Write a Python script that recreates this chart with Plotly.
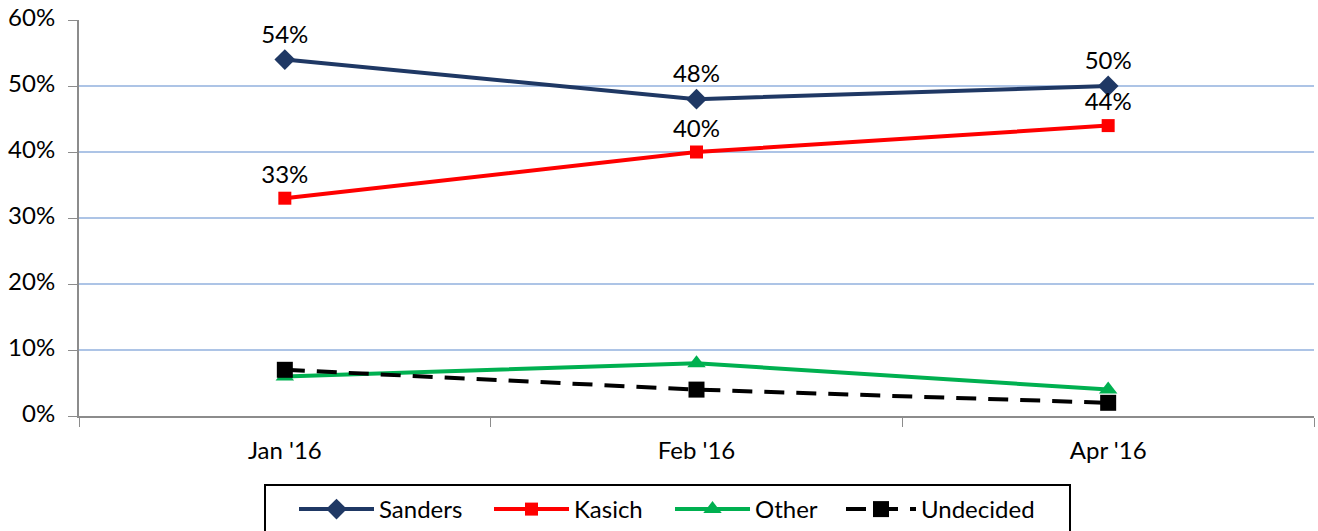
import plotly.graph_objects as go

categories = ["Jan '16", "Feb '16", "Apr '16"]
sanders = [54, 48, 50]
kasich = [33, 40, 44]
other = [6, 8, 4]
undecided = [7, 4, 2]
y_ticks = [0, 10, 20, 30, 40, 50, 60]

FONT = "Lato, Carlito, Calibri, sans-serif"
FS = 24

W, H = 1318, 531
ML, MT, MR, MB = 79, 20, 4, 115
PW = W - ML - MR
PH = H - MT - MB

def px_x(page_x):
    return (page_x - ML) / PW

def px_y(page_y):
    return (MT + PH - page_y) / PH

fig = go.Figure()

def add(name, vals, color, symbol, msize, legend, dash="solid", labels=False):
    fig.add_trace(go.Scatter(
        x=categories, y=vals, name=name, legend=legend,
        mode="lines+markers+text" if labels else "lines+markers",
        line=dict(color=color, width=4, dash=dash),
        marker=dict(symbol=symbol, size=msize, color=color),
        text=[f"{v}%" for v in vals] if labels else None,
        textposition="top center",
        textfont=dict(size=FS, color="black", family=FONT),
        cliponaxis=False,
    ))

add("Sanders", sanders, "#1F3864", "diamond", 16, "legend", labels=True)
add("Kasich", kasich, "#FF0000", "square", 13, "legend2", labels=True)
add("Other", other, "#00B050", "triangle-up", 16, "legend3")
add("Undecided", undecided, "#000000", "square", 16, "legend4", dash="20px,12px")

legend_starts = [299, 494, 675, 846]
legend_itemw = [75, 75, 75, 70]
legend_y = px_y(487)

def leg(i):
    return dict(
        orientation="h", x=px_x(legend_starts[i] - 5), xanchor="left",
        y=legend_y, yanchor="top",
        borderwidth=0, bgcolor="rgba(0,0,0,0)",
        font=dict(size=FS, family=FONT, color="black"),
        itemwidth=legend_itemw[i],
    )

fig.update_layout(
    width=W, height=H,
    margin=dict(l=ML, r=MR, t=MT, b=MB, autoexpand=False),
    plot_bgcolor="white", paper_bgcolor="white",
    font=dict(family=FONT, size=FS, color="black"),
    showlegend=True,
    legend=leg(0), legend2=leg(1), legend3=leg(2), legend4=leg(3),
    shapes=[dict(
        type="rect", xref="paper", yref="paper",
        x0=px_x(265), x1=px_x(1070), y0=px_y(485), y1=px_y(560),
        line=dict(color="black", width=2), fillcolor="rgba(0,0,0,0)",
        layer="above",
    )],
)
fig.update_xaxes(
    type="category", range=[-0.5, 2.5], automargin=False,
    showline=True, linecolor="#8C8C8C", linewidth=2,
    ticks="outside", tickson="boundaries", ticklen=9, tickcolor="#8C8C8C", tickwidth=1,
    showgrid=False, tickfont=dict(size=FS), ticklabelstandoff=12,
)
fig.update_yaxes(
    range=[0, 60], tickvals=y_ticks, ticktext=[f"{v}%" for v in y_ticks],
    automargin=False, ticklabeloverflow="allow", ticklabelshift=-2,
    showline=True, linecolor="#8C8C8C", linewidth=2,
    ticks="outside", ticklen=9, tickcolor="#8C8C8C",
    showgrid=True, gridcolor="#ADC4E6", gridwidth=1.5,
    zeroline=False, tickfont=dict(size=FS), ticklabelstandoff=8,
)

fig.write_html("out.html", config={"displayModeBar": False},
               post_script="document.body.style.margin='0';")
